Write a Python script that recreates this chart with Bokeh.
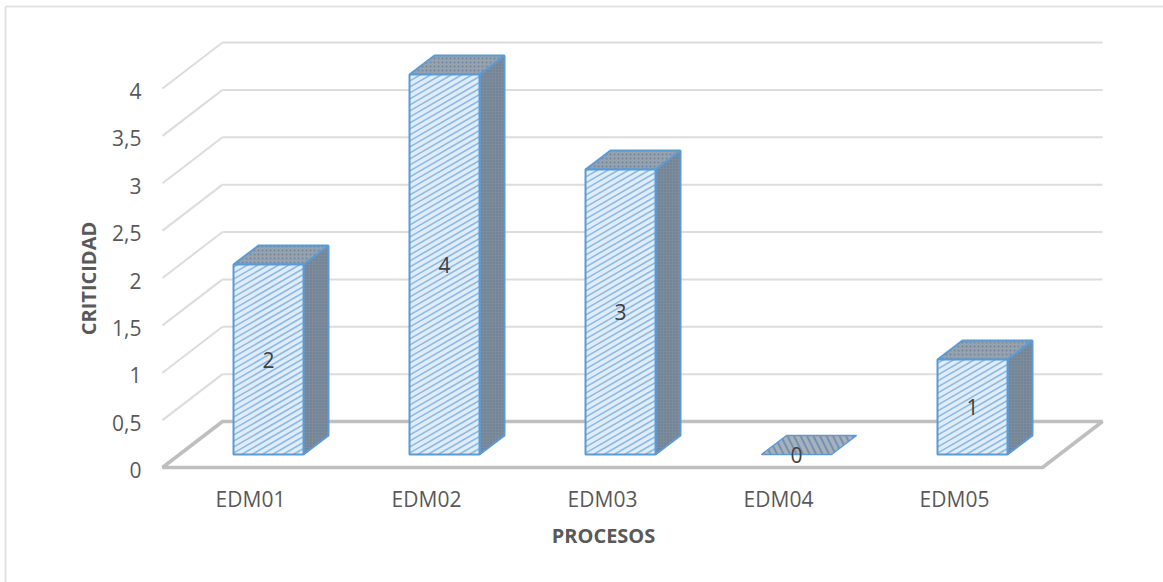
from bokeh.core.properties import value
from bokeh.embed import file_html
from bokeh.models import FixedTicker, Range1d
from bokeh.plotting import figure
from bokeh.resources import INLINE

categories = ["EDM01", "EDM02", "EDM03", "EDM04", "EDM05"]
values = [2, 4, 3, 0, 1]
y_ticks = [0, 0.5, 1, 1.5, 2, 2.5, 3, 3.5, 4]
y_tick_labels = ["0", "0,5", "1", "1,5", "2", "2,5", "3", "3,5", "4"]
x_title = "PROCESOS"
y_title = "CRITICIDAD"

WIDTH, HEIGHT = 1163, 582
PX_X = 176      # pixels per category along the front of the floor
PX_Y = 94.75    # pixels per value unit on the wall
ZERO_PX_X, ZERO_PX_Y = 250, 467
BAR_SCALE = 95 / 94.75
TICK_LABEL_DROP = 2.5  # value labels sit slightly below their gridlines

GREY = "#dcdcdc"
FLOOR = "#bfbfbf"
BLUE = "#5b9bd5"
AXIS_TEXT = "#595959"
LABEL_TEXT = "#404040"
FONT = "Open Sans"


def dx(px):
    return px / PX_X


def dy(px):
    return px / PX_Y


def at_x(px):
    return (px - ZERO_PX_X) / PX_X


def at_y(px):
    return (ZERO_PX_Y - px) / PX_Y


p = figure(
    width=WIDTH, height=HEIGHT, output_backend="svg", toolbar_location=None,
    min_border=0,
    x_range=Range1d(at_x(0), at_x(WIDTH)),
    y_range=Range1d(at_y(HEIGHT), at_y(0)),
)
p.extra_y_ranges = {"tick_labels": Range1d(at_y(HEIGHT - TICK_LABEL_DROP), at_y(-TICK_LABEL_DROP))}
p.grid.visible = False
p.outline_line_color = None
p.background_fill_color = "white"

for ax in (p.xaxis[0], p.yaxis[0]):
    ax.axis_line_color = None
    ax.major_tick_line_color = None
    ax.minor_tick_line_color = None
    ax.major_label_text_color = AXIS_TEXT
    ax.major_label_text_font = FONT
    ax.major_label_text_font_size = "21px"

p.yaxis[0].y_range_name = "tick_labels"
p.yaxis[0].ticker = FixedTicker(ticks=y_ticks)
p.yaxis[0].major_label_overrides = dict(zip(y_ticks, y_tick_labels))
p.yaxis[0].fixed_location = at_x(149)
p.yaxis[0].major_label_standoff = 2
p.xaxis[0].ticker = FixedTicker(ticks=list(range(len(categories))))
p.xaxis[0].major_label_overrides = dict(enumerate(categories))
p.xaxis[0].fixed_location = at_y(474)
p.xaxis[0].major_label_standoff = 4

# Chart border: only the top and left edges remain inside the page
p.segment(
    [at_x(5), at_x(5)], [at_y(6), at_y(6)], [at_x(WIDTH), at_x(5)], [at_y(6), at_y(HEIGHT)],
    line_color="#e2e2e2", line_width=2,
)

# Side and back walls of the 3D box
wall_dx, wall_dy = dx(60), dy(46)
left_x = at_x(162)
right_x = at_x(1042)
grid_ticks = y_ticks[1:]
p.segment(
    [left_x] * len(grid_ticks), grid_ticks,
    [left_x + wall_dx] * len(grid_ticks), [t + wall_dy for t in grid_ticks],
    line_color=GREY, line_width=2,
)
p.segment(
    [left_x + wall_dx] * len(grid_ticks), [t + wall_dy for t in grid_ticks],
    [right_x + wall_dx] * len(grid_ticks), [t + wall_dy for t in grid_ticks],
    line_color=GREY, line_width=2,
)

# Floor
p.patch(
    [left_x, right_x, right_x + wall_dx, left_x + wall_dx],
    [0, 0, wall_dy, wall_dy],
    fill_color=None, line_color=FLOOR, line_width=3.5,
)

half_w = dx(35)
depth_x, depth_y = dx(25), dy(19)
bar_shift = dx(18)
base = dy(13)


def hatch_segments(x0, x1, y0, y1, spacing_px=6.0, slope=0.58):
    """Diagonal hatch strokes clipped to a front face, in data coordinates."""
    w_px = (x1 - x0) * PX_X
    h_px = (y1 - y0) * PX_Y
    xs, ys = [], []
    c = -w_px * slope
    while c < h_px:
        pts = []
        if 0 <= c <= h_px:
            pts.append((0, c))
        y_right = c + slope * w_px
        if 0 <= y_right <= h_px:
            pts.append((w_px, y_right))
        if c < 0 < y_right:
            pts.append((-c / slope, 0))
        if c < h_px < y_right:
            pts.append(((h_px - c) / slope, h_px))
        if len(pts) >= 2:
            xs.append([x0 + pts[0][0] / PX_X, x0 + pts[1][0] / PX_X])
            ys.append([y0 + pts[0][1] / PX_Y, y0 + pts[1][1] / PX_Y])
        c += spacing_px
    return xs, ys


for i, v in enumerate(values):
    centre = i + bar_shift
    x0, x1 = centre - half_w, centre + half_w
    y0, y1 = base, base + v * BAR_SCALE
    top_x = [x0, x1, x1 + depth_x, x0 + depth_x]
    top_y = [y1, y1, y1 + depth_y, y1 + depth_y]
    if v > 0:
        # Right side face
        p.patch(
            [x1, x1 + depth_x, x1 + depth_x, x1],
            [y0, y0 + depth_y, y1 + depth_y, y1],
            fill_color="#7f8b98", line_color=BLUE, line_width=2,
            hatch_pattern="dot", hatch_color="#5c7c9c", hatch_scale=3, hatch_weight=1,
        )
        # Top face
        p.patch(
            top_x, top_y, fill_color="#98a2ad", line_color=BLUE, line_width=2,
            hatch_pattern="dot", hatch_color="#6b87a3", hatch_scale=4, hatch_weight=1,
        )
        # Front face
        p.quad(left=x0, right=x1, bottom=y0, top=y1, fill_color="#e0edf9", line_color=None)
        hx, hy = hatch_segments(x0, x1, y0, y1)
        p.multi_line(hx, hy, line_color="#8dbae3", line_width=1.6)
        p.quad(left=x0, right=x1, bottom=y0, top=y1, fill_color=None, line_color=BLUE, line_width=2)
        label_y = (y0 + y1) / 2
    else:
        # A zero bar collapses to its top face
        p.patch(
            top_x, top_y, fill_color="#a8b1ba", line_color=BLUE, line_width=1.5,
            hatch_pattern="left_diagonal_line", hatch_color="#6e93b8", hatch_scale=13, hatch_weight=2,
        )
        label_y = y0
    p.text(
        [centre], [label_y], text=[str(v)], text_align="center", text_baseline="middle",
        text_color=LABEL_TEXT, text_font_size="21px", text_font=value(FONT),
    )

# Axis titles
p.text(
    [at_x(603)], [at_y(535)], text=[x_title], text_align="center", text_baseline="middle",
    text_color=AXIS_TEXT, text_font=value(FONT), text_font_size="20px", text_font_style="bold",
)
p.text(
    [at_x(88)], [at_y(278)], text=[y_title], angle=90, angle_units="deg",
    text_align="center", text_baseline="middle",
    text_color=AXIS_TEXT, text_font=value(FONT), text_font_size="20px", text_font_style="bold",
)

open("out.html", "w").write(file_html(p, INLINE))
